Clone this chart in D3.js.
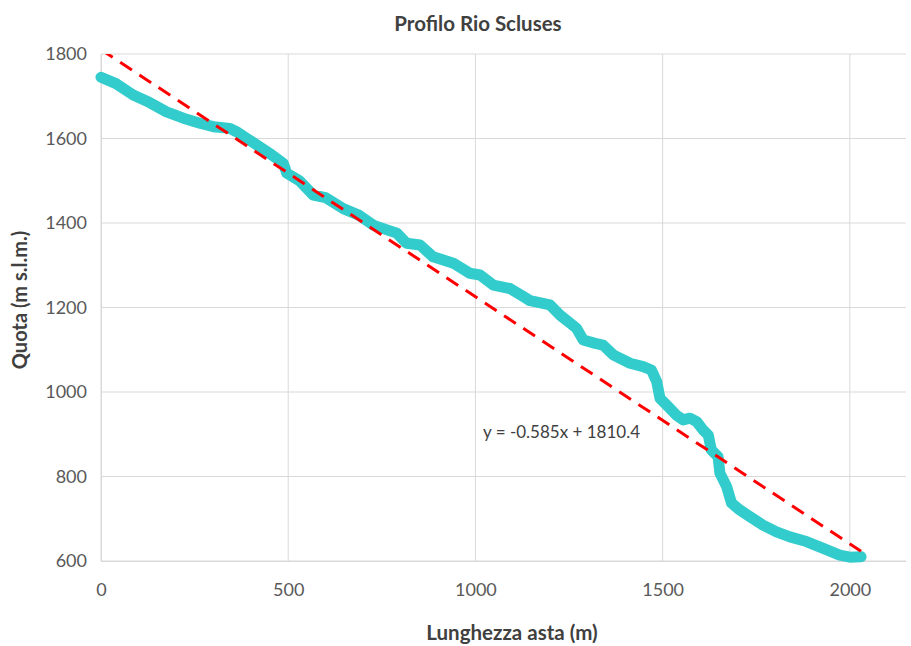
<!DOCTYPE html>
<html>
<head>
<meta charset="utf-8">
<script src="https://cdn.jsdelivr.net/npm/d3@7"></script>
<style>
  body { margin: 0; background: #fff; }
  svg { display: block; }
  text { font-family: Lato, "Open Sans", sans-serif; }
</style>
</head>
<body>
<svg id="chart" width="911" height="646"></svg>
<script>
// ---- Data ----
const chartTitle = "Profilo Rio Scluses";
const xTitle = "Lunghezza asta (m)";
const yTitle = "Quota (m s.l.m.)";
const xTicks = [0, 500, 1000, 1500, 2000];
const yTicks = [600, 800, 1000, 1200, 1400, 1600, 1800];
const distance = [0, 40, 86, 130, 175, 220, 264, 300, 344, 362, 390, 416, 450, 487, 496, 530, 567, 600, 647, 690, 727, 760, 790, 816, 852, 887, 941, 985, 1012, 1048, 1092, 1128, 1146, 1199, 1226, 1250, 1270, 1288, 1320, 1341, 1368, 1413, 1448, 1470, 1484, 1493, 1511, 1537, 1555, 1573, 1591, 1608, 1622, 1630, 1648, 1653, 1671, 1684, 1706, 1733, 1768, 1804, 1840, 1884, 1929, 1973, 2000, 2030];
const elevation = [1745, 1730, 1703, 1685, 1663, 1648, 1636, 1628, 1624, 1616, 1600, 1585, 1565, 1541, 1518, 1500, 1466, 1460, 1434, 1418, 1395, 1385, 1376, 1352, 1348, 1320, 1305, 1281, 1277, 1253, 1245, 1226, 1216, 1206, 1182, 1165, 1151, 1123, 1115, 1111, 1088, 1068, 1060, 1052, 1025, 985, 969, 945, 934, 938, 930, 910, 898, 863, 847, 808, 776, 737, 721, 705, 685, 669, 657, 646, 630, 614, 609, 610];
const trendSlope = -0.585;
const trendIntercept = 1810.4;
const trendLabel = "y = -0.585x + 1810.4";

// ---- Layout ----
const svg = d3.select("#chart");
const pLeft = 101, pRight = 906, pTop = 54, pBottom = 561;
const x = d3.scaleLinear().domain([0, 2150]).range([pLeft, pRight]);
const y = d3.scaleLinear().domain([600, 1800]).range([pBottom, pTop]);

const gridColor = "#d9d9d9";
const textColor = "#595959";

// gridlines
svg.append("g").selectAll("line").data(yTicks).join("line")
  .attr("x1", pLeft).attr("x2", pRight)
  .attr("y1", d => y(d)).attr("y2", d => y(d))
  .attr("stroke", gridColor).attr("stroke-width", 1);
svg.append("g").selectAll("line").data(xTicks).join("line")
  .attr("x1", d => x(d)).attr("x2", d => x(d))
  .attr("y1", pTop).attr("y2", pBottom)
  .attr("stroke", gridColor).attr("stroke-width", 1);

// axes (labels via d3 axis)
const xAxis = svg.append("g").attr("transform", `translate(0,${pBottom})`)
  .call(d3.axisBottom(x).tickValues(xTicks).tickFormat(d3.format("d")).tickSize(0).tickPadding(22));
xAxis.select(".domain").attr("stroke", gridColor);
xAxis.selectAll("text").attr("font-size", 18).attr("fill", textColor).attr("font-family", "Lato");

const yAxis = svg.append("g").attr("transform", `translate(${pLeft},0)`)
  .call(d3.axisLeft(y).tickValues(yTicks).tickFormat(d3.format("d")).tickSize(0).tickPadding(14));
yAxis.select(".domain").attr("stroke", gridColor);
yAxis.selectAll("text").attr("font-size", 18).attr("fill", textColor).attr("font-family", "Lato");

// clip
svg.append("clipPath").attr("id", "plotclip")
  .append("rect").attr("x", pLeft).attr("y", pTop).attr("width", pRight - pLeft).attr("height", pBottom - pTop);

// profile series
const pts = distance.map((d, i) => [d, elevation[i]]);
const line = d3.line().x(d => x(d[0])).y(d => y(d[1]));
svg.append("path").datum(pts)
  .attr("d", line)
  .attr("fill", "none")
  .attr("stroke", "#33CCCC")
  .attr("stroke-width", 11)
  .attr("stroke-linejoin", "round")
  .attr("stroke-linecap", "round");

// trendline
const tx0 = 0, tx1 = distance[distance.length - 1];
svg.append("line")
  .attr("clip-path", "url(#plotclip)")
  .attr("x1", x(tx0)).attr("y1", y(trendSlope * tx0 + trendIntercept))
  .attr("x2", x(tx1)).attr("y2", y(trendSlope * tx1 + trendIntercept))
  .attr("stroke", "#FF0000").attr("stroke-width", 3)
  .attr("stroke-dasharray", "14,9");

// trend label
svg.append("text").attr("x", 483).attr("y", 438)
  .attr("font-size", 17).attr("fill", "#404040").text(trendLabel);

// titles
svg.append("text").attr("x", 478).attr("y", 31).attr("text-anchor", "middle")
  .attr("font-size", 20.5).attr("font-weight", "bold").attr("fill", "#404040").text(chartTitle);
svg.append("text").attr("x", 512).attr("y", 640).attr("text-anchor", "middle")
  .attr("font-size", 20.5).attr("font-weight", "bold").attr("fill", "#404040").text(xTitle);
svg.append("text").attr("transform", "translate(27,300) rotate(-90)").attr("text-anchor", "middle")
  .attr("font-size", 20).attr("font-weight", "bold").attr("fill", "#404040").text(yTitle);
</script>
</body>
</html>
